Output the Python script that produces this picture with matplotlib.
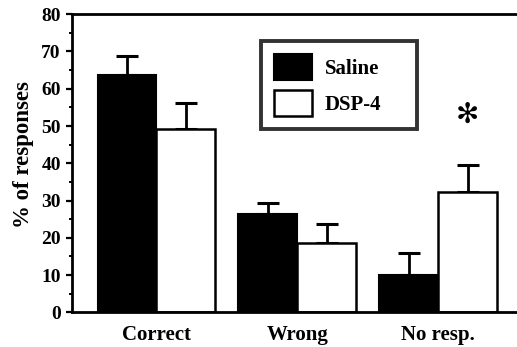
import numpy as np
import matplotlib
matplotlib.use("Agg")
import matplotlib.pyplot as plt
from matplotlib.ticker import MultipleLocator

# Response outcome data (% of responses, mean and upper SEM)
categories = ["Correct", "Wrong", "No resp."]
saline_mean = [63.8, 26.3, 10.0]
saline_err = [5.0, 3.1, 6.0]
dsp4_mean = [49.3, 18.5, 32.2]
dsp4_err = [7.0, 5.1, 7.4]
series_labels = ["Saline", "DSP-4"]
signif_value = 53.0  # height of the significance marker over No resp. / DSP-4

plt.rcParams["font.family"] = ["Liberation Serif", "DejaVu Serif"]

fig = plt.figure(figsize=(5.17, 3.47), dpi=100)
ax = fig.add_axes([0.139, 0.100, 0.861, 0.859])

x = np.arange(len(categories))
w = 0.418

ax.bar(x - w / 2, saline_mean, width=w, color="black", edgecolor="black",
       linewidth=1.5, label=series_labels[0], zorder=2)
ax.bar(x + w / 2, dsp4_mean, width=w, color="white", edgecolor="black",
       linewidth=1.8, label=series_labels[1], zorder=2)

zeros = [0] * len(categories)
ax.errorbar(x - w / 2, saline_mean, yerr=[zeros, saline_err], fmt="none",
            ecolor="black", elinewidth=2, capsize=8, capthick=2.2, zorder=1)
ax.errorbar(x + w / 2, dsp4_mean, yerr=[zeros, dsp4_err], fmt="none",
            ecolor="black", elinewidth=2, capsize=8, capthick=2.2, zorder=1)

# significance marker
ax.text(x[2] + w / 2, signif_value, "\u273b", ha="center", va="center",
        fontsize=20, family=["DejaVu Sans"], color="black")

ax.set_xlim(-0.6, 2.56)
ax.set_ylim(0, 80)
ax.yaxis.set_major_locator(MultipleLocator(10))
ax.yaxis.set_minor_locator(MultipleLocator(5))
ax.set_xticks(x)
ax.set_xticklabels(categories, fontsize=15, fontweight="bold")
ax.tick_params(axis="x", length=0, pad=9)
ax.tick_params(axis="y", which="major", length=4, width=1.6, direction="out",
               labelsize=14, pad=4)
ax.tick_params(axis="y", which="minor", length=2.5, width=1.4, direction="out")
for lbl in ax.get_yticklabels():
    lbl.set_fontweight("bold")

for side in ("left", "bottom", "top"):
    ax.spines[side].set_linewidth(2.0)
ax.spines["right"].set_visible(False)

ax.set_ylabel("% of responses", fontsize=16.5, fontweight="bold")
ax.yaxis.set_label_coords(-0.086, 0.528)

leg = ax.legend(loc="upper left", bbox_to_anchor=(0.425, 0.558, 0.35, 0.352),
                mode="expand", fontsize=15, frameon=True, fancybox=False,
                handlelength=1.85, handleheight=1.6, handletextpad=0.6,
                labelspacing=0.45, borderpad=0.6, borderaxespad=0)
leg.get_frame().set_edgecolor("black")
leg.get_frame().set_linewidth(2.8)
for t in leg.get_texts():
    t.set_fontweight("bold")

fig.savefig("out.png", dpi=100)
